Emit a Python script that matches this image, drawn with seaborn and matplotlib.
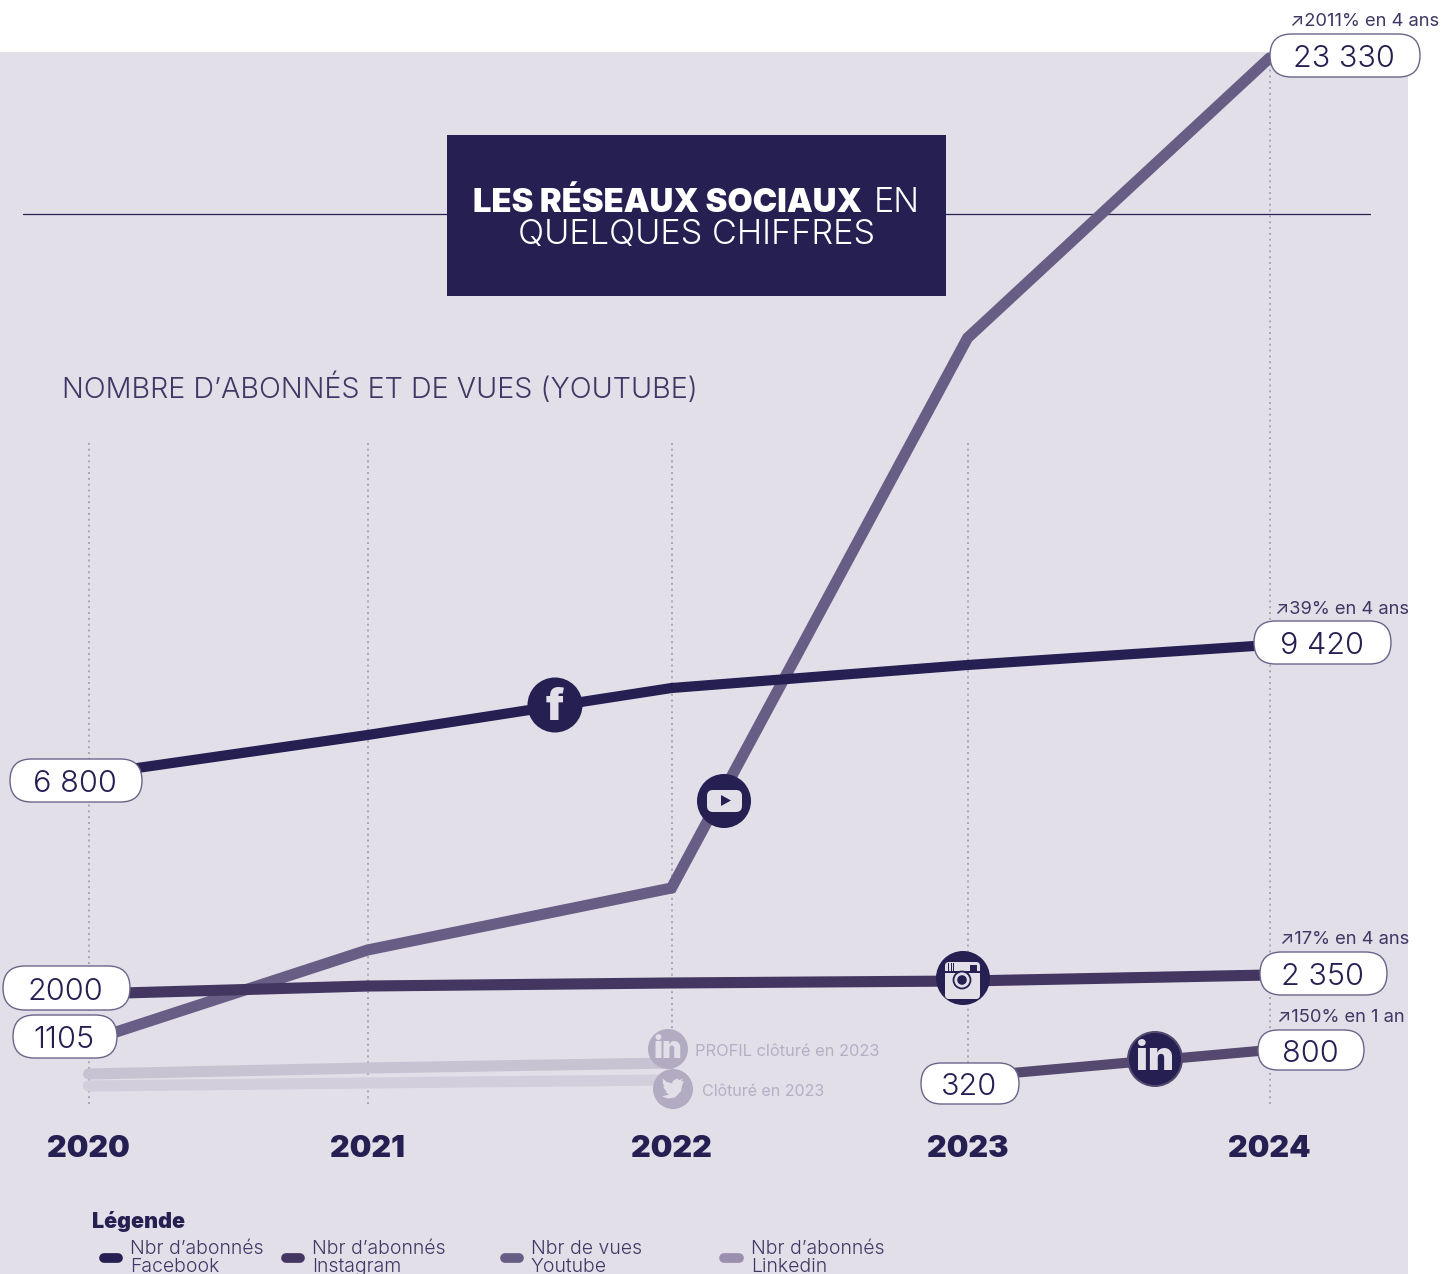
import numpy as np
import pandas as pd
import matplotlib
matplotlib.use("Agg")
import matplotlib.pyplot as plt
import seaborn as sns
from matplotlib.patches import FancyBboxPatch, Rectangle, Circle, Polygon

# ---------- data ----------
years = [2020, 2021, 2022, 2023, 2024]
facebook = [6800, 7606, 8553, 9017, 9420]
instagram = [2000, 2147, 2203, 2240, 2350]
youtube = [1105, 2906, 4286, 16695, 23330]
linkedin_years = [2023, 2024]
linkedin = [320, 800]
closed_years = [2020, 2021, 2022]
linkedin_profile_closed = [373, 480, 569]
twitter_closed = [213, 249, 285]
guide_tops = [14290, 14290, 14290, 14290, 23330]

year_labels = ["2020", "2021", "2022", "2023", "2024"]
value_labels = ["23 330", "9 420", "6 800", "2000", "1105", "2 350", "800", "320"]
growth_labels = ["↗2011% en 4 ans", "↗39% en 4 ans", "↗17% en 4 ans", "↗150% en 1 an"]
legend_labels = ["Nbr d’abonnés\nFacebook", "Nbr d’abonnés\nInstagram",
                 "Nbr de vues\nYoutube", "Nbr d’abonnés\nLinkedin"]

# the reference's axes are schematic: non-linear scale anchors
x_vals = np.array([2019.685, 2020, 2021, 2022, 2023, 2024, 2024.573])
x_pix = np.array([0, 88.5, 367.5, 671.5, 967.5, 1269.5, 1442], float)
y_vals = np.array([-2000, 0, 320, 800, 1105, 2000, 2350, 6800, 9420, 23330, 24704], float)
y_pix = np.array([1274, 1104, 1077, 1050, 1041, 994, 975, 775, 645, 58, 0], float)

# ---------- colours ----------
INK = "#251F52"
C_FB = "#251F52"
C_IG = "#433660"
C_YT = "#685D85"
C_LI = "#56496F"
C_LEG_LI = "#9A8FAE"
PANEL = "#E2DFE9"
GREY_ICON = "#B2ABC2"
GREY_TXT = "#B5AFC4"

sns.set_theme(style="white")
plt.rcParams["font.family"] = ["Inter", "DejaVu Sans"]

W, H = 1442, 1274
fig = plt.figure(figsize=(W / 100, H / 100), dpi=100, facecolor="white")


def pixel_axes(z):
    a = fig.add_axes([0, 0, 1, 1], zorder=z)
    a.set_xlim(0, W)
    a.set_ylim(H, 0)
    a.axis("off")
    a.patch.set_alpha(0)
    return a


bg = pixel_axes(0)
bg.add_patch(Rectangle((0, 52), 1408, H - 52, fc=PANEL, ec="none"))
bg.plot([23, 1370], [214, 214], color=INK, lw=0.9)

# ---------- data axes ----------
ax = fig.add_axes([0, 0, 1, 1], zorder=1)
ax.patch.set_alpha(0)
ax.set_xscale("function", functions=(lambda v: np.interp(v, x_vals, x_pix),
                                     lambda p: np.interp(p, x_pix, x_vals)))
ax.set_yscale("function", functions=(lambda v: np.interp(v, y_vals, -y_pix),
                                     lambda p: np.interp(p, -y_pix, y_vals)))
ax.vlines(years, 0, guide_tops, color="#A9A5B5", lw=1.4, linestyles=(0, (1, 2)))


def series(xs, ys, color, lw):
    df = pd.DataFrame({"annee": xs, "valeur": ys})
    sns.lineplot(data=df, x="annee", y="valeur", ax=ax, color=color, lw=lw,
                 solid_capstyle="round", solid_joinstyle="miter", errorbar=None)


series(closed_years, linkedin_profile_closed, "#C8C3D2", 8.0)
series(closed_years, twitter_closed, "#D2CEDC", 8.0)
series(years, youtube, C_YT, 8.0)
series(years, facebook, C_FB, 7.3)
series(years, instagram, C_IG, 8.0)
series(linkedin_years, linkedin, C_LI, 7.3)
ax.set_xlim(x_vals[0], x_vals[-1])
ax.set_ylim(y_vals[0], y_vals[-1])
ax.axis("off")

# ---------- overlay ----------
ov = pixel_axes(2)

# title box
ov.add_patch(Rectangle((447, 135), 499, 161, fc=INK, ec="none"))
ov.text(473, 203, "LES RÉSEAUX SOCIAUX", color="white", fontsize=23.6, fontweight=900,
        ha="left", va="center")
ov.text(874, 203, "EN", color="white", fontsize=24.5, fontweight=300, ha="left", va="center")
ov.text(697, 235, "QUELQUES CHIFFRES", color="white", fontsize=24.7, fontweight=300,
        ha="center", va="center")
ov.text(62, 388, "NOMBRE D’ABONNÉS ET DE VUES (YOUTUBE)", color="#3F3764", fontsize=20.7,
        fontweight=300, ha="left", va="center")

# value pills
pills = [(1270, 1420, 34, 77), (1254, 1391, 621, 664), (10, 142, 759, 802), (3, 130, 966, 1010),
         (13, 117, 1015, 1058), (1260, 1387, 952, 995), (1258, 1364, 1030, 1070), (921, 1019, 1063, 1104)]
for (x0, x1, y0, y1), lab in zip(pills, value_labels):
    h = y1 - y0
    ov.add_patch(FancyBboxPatch((x0, y0), x1 - x0, h, boxstyle=f"round,pad=0,rounding_size={h / 2}",
                                fc="white", ec="#6B648A", lw=1.0))
    ov.text((x0 + x1) / 2 - 1, (y0 + y1) / 2 + 3.5, lab, color=INK, fontsize=22, fontweight=300,
            ha="center", va="center")

# growth captions
for (x, y), lab in zip([(1290, 22), (1275, 609), (1280, 940), (1277, 1017)], growth_labels):
    ov.text(x, y, lab, color="#3F3764", fontsize=13.2, ha="left", va="center")

# year labels
for x, lab in zip(x_pix[1:6], year_labels):
    ov.text(x, 1149, lab, color=INK, fontsize=22, fontweight=900, ha="center", va="center")


def disc(cx, cy, r, color=INK):
    ov.add_patch(Circle((cx, cy), r, fc=color, ec="none"))


# facebook
disc(555, 705, 27.5)
ov.text(555, 708, "f", color=PANEL, fontsize=31, fontweight=900, ha="center", va="center")

# youtube
disc(724, 801, 27)
ov.add_patch(FancyBboxPatch((707, 790), 35, 22, boxstyle="round,pad=0,rounding_size=6", fc=PANEL, ec="none"))
ov.add_patch(Polygon([(721, 795), (721, 806), (731, 800.5)], fc=INK, ec="none"))

# instagram
disc(963, 978, 27)
ov.add_patch(FancyBboxPatch((945, 962), 35, 37, boxstyle="round,pad=0,rounding_size=4", fc=PANEL, ec="none"))
ov.add_patch(Rectangle((945, 971), 35, 1.5, fc=INK, ec="none"))
ov.add_patch(Rectangle((970, 965), 7, 6, fc=INK, ec="none"))
for sx in (948, 950.5, 953):
    ov.add_patch(Rectangle((sx, 963), 1.2, 8, fc=INK, ec="none"))
ov.add_patch(Circle((962, 980), 8.5, fc=PANEL, ec=INK, lw=1.3))
ov.add_patch(Circle((962, 980), 4.8, fc=INK, ec="none"))

# linkedin
disc(1155, 1059, 28, "#56496F")
disc(1155, 1059, 26)
ov.text(1155, 1059, "in", color=PANEL, fontsize=29, fontweight=900, ha="center", va="center")

# closed accounts
disc(668, 1049, 20, GREY_ICON)
ov.text(668, 1050, "in", color=PANEL, fontsize=22, fontweight=900, ha="center", va="center")
disc(673, 1089, 20, GREY_ICON)
bird = np.array([(11, -7), (8, -6.5), (10, -9.5), (6.5, -8), (3.5, -9.5), (-0.5, -6.5), (-0.5, -4.5),
                 (-6, -6), (-10.5, -9.5), (-10, -4), (-8, -1.5), (-10, -2), (-8, 2), (-6, 3.5),
                 (-7.5, 4), (-4, 6.5), (-11, 8.5), (-5, 10.5), (2, 9.5), (8, 3), (9.5, -4)]) + (673, 1088)
ov.add_patch(Polygon(bird, fc=PANEL, ec="none"))
ov.text(695, 1051, "PROFIL clôturé en 2023", color=GREY_TXT, fontsize=11.8, ha="left", va="center")
ov.text(702, 1091, "Clôturé en 2023", color=GREY_TXT, fontsize=11.5, ha="left", va="center")

# legend
ov.text(92, 1222, "Légende", color=INK, fontsize=15.5, fontweight=900, ha="left", va="center")
swatches = [(100, 122, C_FB), (282, 304, C_IG), (501, 523, C_YT), (720, 743, C_LEG_LI)]
for (x0, x1, col), lab in zip(swatches, legend_labels):
    ov.plot([x0 + 4, x1 - 4], [1258, 1258], color=col, lw=7, solid_capstyle="round")
    l1, l2 = lab.split("\n")
    ov.text(x1 + 8, 1249, l1, color="#3F3764", fontsize=14, fontweight=300, ha="left", va="center")
    ov.text(x1 + 8, 1267.5, l2, color="#3F3764", fontsize=14, fontweight=300, ha="left", va="center")

fig.savefig("out.png", dpi=100, facecolor="white")
